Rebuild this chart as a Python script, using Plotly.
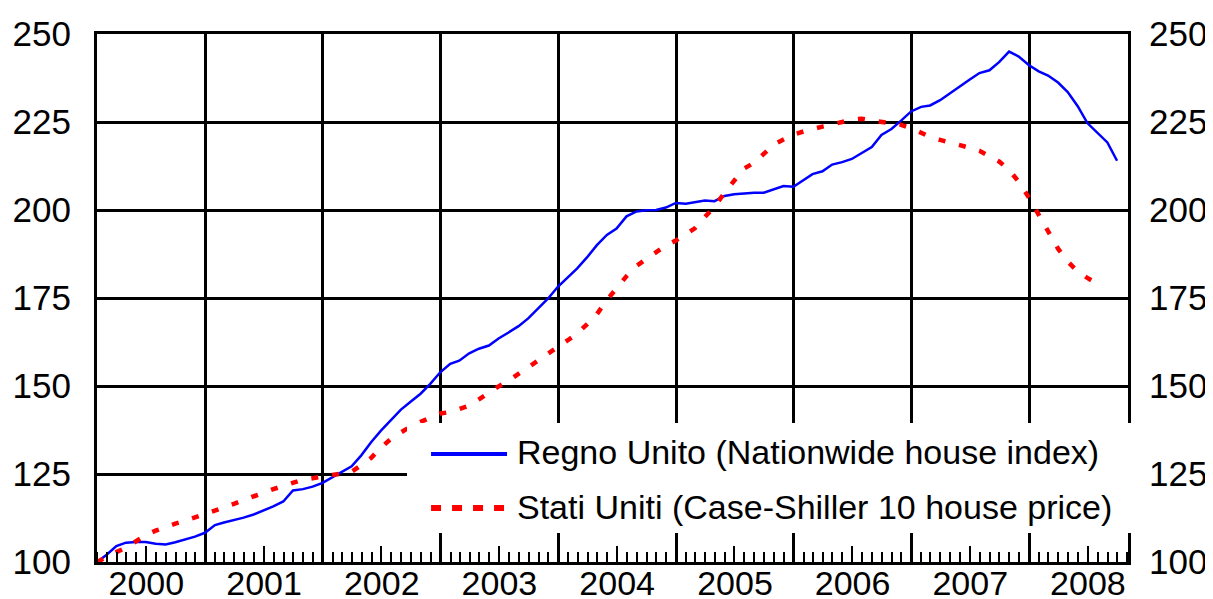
import pandas as pd
import plotly.graph_objects as go

# house price indices, Jan 2000 = 100, monthly
UK_NATIONWIDE = [
    100, 102, 104.5, 105.5, 105.7, 105.7, 105.2, 105, 105.6, 106.3, 107.2, 108.3,
    110.5, 111.2, 111.8, 112.6, 113.5, 114.6, 115.8, 117.2, 120.3, 120.7, 121.4, 122.5,
    124.2, 125.7, 127.2, 130.3, 134.1, 137.3, 140.4, 143.3, 145.5, 147.8, 150.6, 153.9,
    156.3, 157.2, 159.3, 160.6, 161.5, 163.5, 165.2, 167, 169.2, 172, 174.8, 178.2,
    180.8, 183.4, 186.6, 190, 192.9, 194.7, 198.2, 199.6, 199.9, 200, 200.7, 202,
    201.8, 202.2, 202.7, 202.5, 204, 204.5, 204.8, 204.9, 204.9, 205.8, 206.8, 206.6,
    208.6, 210.2, 211, 212.9, 213.6, 214.5, 216.2, 217.9, 221.3, 223, 225.4, 228,
    229.3, 229.7, 231.2, 233, 235.1, 237, 238.9, 239.7, 242, 245, 243.6, 241.2,
    239.4, 238.2, 236.2, 233.5, 229.5, 224.7, 222, 219.2, 214,
]
US_CASE_SHILLER = [
    100, 101.5, 102.8, 104.1, 106, 107.6, 108.9, 110, 110.9, 111.7, 112.6, 113.5,
    114.5, 115.5, 116.5, 117.6, 118.7, 119.7, 120.7, 121.6, 122.6, 123.4, 123.8, 124.2,
    124.6, 125, 125.6, 127.5, 129.6, 132.5, 135, 136.8, 138.5, 139.8, 141.1, 142.2,
    142.6, 143.4, 144.4, 146.2, 148.2, 149.9, 151.5, 153.5, 155.5, 157.3, 159.3, 161.1,
    163, 164.9, 167.6, 170.4, 174.4, 177.8, 181.2, 184.1, 186, 188, 189.9, 191.3,
    193.2, 194.8, 198, 200.9, 204.9, 208.1, 211.8, 213.4, 216, 218.6, 220, 221.4,
    222.3, 223.1, 223.7, 224.3, 225, 225.7, 225.9, 225.5, 225.1, 224.7, 224.2, 223.2,
    221.8, 220.8, 219.9, 219.2, 218.6, 217.7, 216.8, 215.3, 213.8, 211.4, 208, 203.6,
    198.5, 194.1, 189, 185.4, 182.5, 180.7, 179,
]
Y_TICKS = [100, 125, 150, 175, 200, 225, 250]
LABEL_UK = "Regno Unito (Nationwide house index)"
LABEL_US = "Stati Uniti (Case-Shiller 10 house price)"

BLUE = "#0000ff"
RED = "#ff0000"
TICK_FONT = dict(family="Liberation Sans, Arial", size=35, color="black")
YEAR_FONT = dict(family="Liberation Sans, Arial", size=34, color="black")
LEGEND_FONT = dict(family="Liberation Sans, Arial", size=34, color="black")
X_RANGE = ["2000-01-31", "2008-11-03"]

months = pd.date_range("2000-01-31", periods=len(UK_NATIONWIDE), freq="ME")
midyears = pd.date_range("2000-07-01", "2008-07-01", freq="12MS")

fig = go.Figure()
fig.add_scatter(x=months, y=UK_NATIONWIDE, mode="lines", name=LABEL_UK,
                line=dict(color=BLUE, width=2.5), xaxis="x", yaxis="y")
fig.add_scatter(x=months[:len(US_CASE_SHILLER)], y=US_CASE_SHILLER, mode="lines", name=LABEL_US,
                line=dict(color=RED, width=4.5, dash="7px,14px"), xaxis="x2", yaxis="y2")

axis_common = dict(zeroline=False, tickfont=TICK_FONT, automargin=False)
fig.update_layout(
    width=1213, height=599, showlegend=False,
    paper_bgcolor="white", plot_bgcolor="white",
    # page body has an 8px margin, so shift up/left to land the plot where the original is
    margin=dict(l=89, r=93, t=26, b=45),
    font=TICK_FONT,
    xaxis=dict(type="date", range=X_RANGE, dtick="M12", tick0="2000-01-01",
               ticklabelmode="period", tickformat="%Y", ticks="",
               showgrid=True, gridcolor="black", gridwidth=3,
               showline=True, linecolor="black", linewidth=3, mirror=True,
               minor=dict(dtick="M1", tick0="2000-01-01", ticks="inside", ticklen=10,
                          tickwidth=2, tickcolor="black", showgrid=False),
               ticklabelstandoff=-11, zeroline=False, tickfont=YEAR_FONT, automargin=False),
    xaxis2=dict(type="date", range=X_RANGE, overlaying="x", anchor="y2", side="bottom",
                tickmode="array", tickvals=midyears, ticks="inside", ticklen=16,
                tickwidth=2, tickcolor="black", showticklabels=False, showgrid=False,
                zeroline=False, automargin=False),
    yaxis=dict(range=[100, 250], tickvals=Y_TICKS, ticks="",
               showgrid=True, gridcolor="black", gridwidth=3,
               showline=True, linecolor="black", linewidth=3, mirror=True,
               ticklabelstandoff=16, **axis_common),
    yaxis2=dict(range=[100, 250], tickvals=Y_TICKS, ticks="", overlaying="y",
                side="right", anchor="x2", showgrid=False,
                ticklabelstandoff=20, **axis_common),
)

# hand-drawn legend box, as in the original (wider line samples than plotly's)
box = dict(x0=0.3007, x1=1.015, y0=0.055, y1=0.2633)
fig.add_shape(type="rect", xref="paper", yref="paper", layer="above",
              fillcolor="white", line=dict(width=0), **box)
fig.add_shape(type="line", xref="paper", yref="paper", layer="above",
              x0=0.324, x1=0.3977, y0=0.2045, y1=0.2045, line=dict(color=BLUE, width=4))
fig.add_shape(type="line", xref="paper", yref="paper", layer="above",
              x0=0.324, x1=0.3948, y0=0.1023, y1=0.1023,
              line=dict(color=RED, width=6, dash="10px,11px"))
for text, y in [(LABEL_UK, 0.2083), (LABEL_US, 0.1042)]:
    fig.add_annotation(text=text, xref="paper", yref="paper", x=0.4054, y=y,
                       xanchor="left", yanchor="middle", showarrow=False, font=LEGEND_FONT)

fig.write_html("out.html")
